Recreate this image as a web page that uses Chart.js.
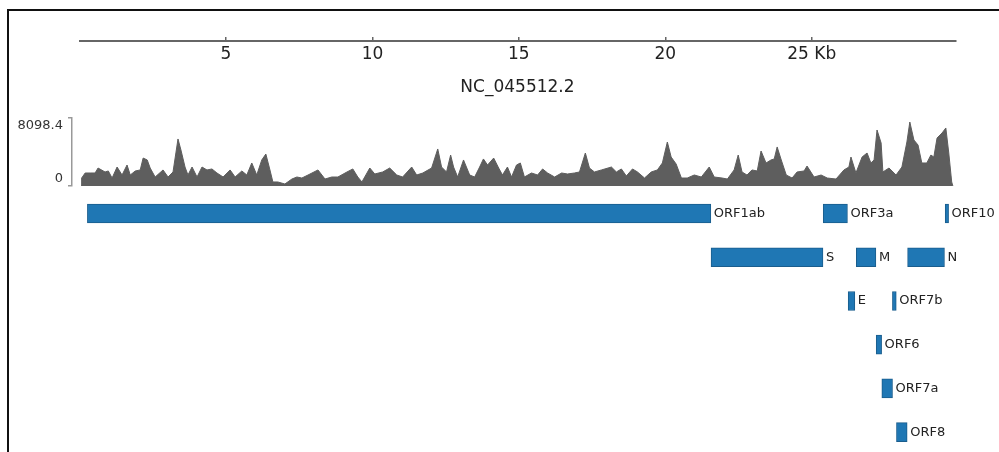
<!DOCTYPE html>
<html><head><meta charset="utf-8">
<script src="https://cdn.jsdelivr.net/npm/chart.js@4.4.0/dist/chart.umd.min.js"></script>
<style>
html,body{margin:0;padding:0;background:#fff;width:999px;height:452px;overflow:hidden;position:relative;}
#frame{position:absolute;left:7px;top:9px;width:1100px;height:600px;border-top:2px solid #111;border-left:2px solid #111;}
.box{position:absolute;left:0;}
canvas{display:block;}
</style></head><body>
<div id="frame"></div>
<div class="box" style="top:0"><canvas id="ruler" width="999" height="100"></canvas></div>
<div class="box" style="top:100px"><canvas id="cov" width="999" height="90"></canvas></div>
<div class="box" style="top:190px"><canvas id="genes" width="999" height="264"></canvas></div>
<script>
// ---- data ----
const seqName = 'NC_045512.2';
const genomeKb = 29.903;
const rulerTicks = [5, 10, 15, 20, 25];
const covMax = 8098.4;
const covTicks = [0, 8098.4];
// coverage positions (kb) and depth
const covPos = [0.05,0.07,0.19,0.36,0.53,0.63,0.87,0.98,1.11,1.28,1.45,1.62,1.73,1.90,2.07,2.17,2.31,2.41,2.58,2.85,3.02,3.19,3.36,3.46,3.60,3.70,3.84,4.01,4.18,4.35,4.52,4.69,4.90,5.14,5.31,5.54,5.71,5.88,6.05,6.22,6.36,6.50,6.60,6.77,7.01,7.25,7.42,7.59,7.80,8.14,8.38,8.61,8.82,9.13,9.33,9.50,9.64,9.91,10.08,10.35,10.59,10.83,11.03,11.34,11.51,11.72,12.02,12.23,12.36,12.53,12.67,12.77,12.91,13.11,13.32,13.49,13.66,13.79,13.93,14.14,14.31,14.44,14.61,14.75,14.92,15.05,15.19,15.43,15.64,15.81,15.98,16.22,16.46,16.66,16.90,17.07,17.27,17.41,17.58,17.82,18.16,18.33,18.50,18.67,18.88,19.05,19.29,19.52,19.73,19.90,20.07,20.20,20.37,20.55,20.75,20.99,21.23,21.50,21.67,21.94,22.12,22.35,22.49,22.62,22.79,22.96,23.14,23.27,23.44,23.61,23.72,23.82,23.96,24.13,24.33,24.50,24.74,24.84,25.08,25.32,25.53,25.83,26.10,26.27,26.34,26.51,26.72,26.89,27.02,27.13,27.23,27.37,27.43,27.64,27.88,28.08,28.25,28.35,28.49,28.63,28.76,28.93,29.07,29.17,29.28,29.45,29.58,29.68,29.78,29.82];
const covVal = [0,950,1550,1550,1550,2140,1670,1790,950,2260,1310,2500,1310,1790,1910,3330,3100,2140,1070,1910,1070,1670,5600,4290,2260,1310,2260,1070,2260,1910,2030,1550,1070,1910,1070,1790,1310,2740,1310,3100,3810,1910,480,480,240,830,1070,950,1310,1910,830,1070,1070,1670,2030,1070,480,2140,1430,1670,2140,1310,1070,2260,1310,1550,2140,4410,2260,1670,3690,2260,1070,3100,1310,1070,2260,3220,2500,3330,2140,1310,2260,1070,2500,2740,1070,1550,1310,2030,1550,1070,1550,1430,1550,1670,3930,2140,1670,1910,2260,1670,2030,1190,2030,1670,950,1670,1910,2740,5240,3450,2620,950,950,1310,1070,2260,1070,950,830,1910,3690,1670,1310,1910,1790,4170,2740,3100,3220,4650,3100,1310,950,1670,1790,2380,1070,1310,950,830,1910,2260,3450,1550,3450,3930,2740,3100,6670,5120,1670,2140,1310,2260,5240,7620,5480,4880,2740,2740,3690,3450,5720,6310,6910,3930,480,0];
// genes (kb)
const geneNames = ['ORF1ab','S','ORF3a','E','M','ORF6','ORF7a','ORF7b','ORF8','N','ORF10'];
const geneStart = [0.266,21.563,25.393,26.245,26.523,27.202,27.394,27.756,27.894,28.274,29.558];
const geneEnd   = [21.555,25.384,26.220,26.472,27.191,27.387,27.759,27.887,28.259,29.533,29.674];
const geneRow   = [0,1,0,2,1,3,4,2,5,1,0];
const rowLabels = ['r1','r2','r3','r4','r5','r6'];

// ---- layout constants ----
const X0 = 79.6, XR = 999 - 955.3, PXKB = 29.285;
const FONT = 'DejaVu Sans';

new Chart(document.getElementById('ruler'), {
  type: 'scatter',
  data: { datasets: [] },
  options: {
    responsive: false, animation: false,
    layout: { padding: { top: 37, left: X0, right: XR, bottom: 0 } },
    plugins: {
      legend: { display: false }, tooltip: { enabled: false },
      title: { display: true, text: seqName, position: 'bottom', color: '#222',
        font: { family: FONT, size: 17, weight: 'normal' }, padding: { top: 6.8, bottom: 1.8 } }
    },
    scales: {
      x: { type: 'linear', position: 'bottom', min: 0, max: genomeKb,
        afterBuildTicks: s => { s.ticks = rulerTicks.map(v => ({ value: v })); },
        afterFit: s => { s.height = 30; },
        grid: { display: true, drawOnChartArea: true, drawTicks: false, color: '#666', lineWidth: 1.5 },
        border: { display: true, color: '#666', width: 2 },
        ticks: { padding: 3, color: '#222', font: { family: FONT, size: 17 }, maxRotation: 0, autoSkip: false,
          callback: v => v === 25 ? '25 Kb' : String(v) } },
      y: { display: false, min: 0, max: 1 }
    }
  }
});

new Chart(document.getElementById('cov'), {
  type: 'line',
  data: { datasets: [{ data: covPos.map((p, i) => ({ x: p, y: covVal[i] })), fill: 'origin',
    backgroundColor: '#5e5e5e', borderColor: '#5e5e5e', borderWidth: 1, pointRadius: 0, tension: 0 }] },
  options: {
    responsive: false, animation: false,
    layout: { padding: { top: 18, bottom: 4, left: 0, right: XR } },
    plugins: { legend: { display: false }, tooltip: { enabled: false } },
    scales: {
      x: { type: 'linear', display: false, min: -(X0 - 72) / PXKB, max: genomeKb },
      y: { min: 0, max: covMax,
        afterBuildTicks: s => { s.ticks = covTicks.map(v => ({ value: v })); },
        afterFit: s => { s.width = 72; s.paddingTop = 0; s.paddingBottom = 0; },
        grid: { drawOnChartArea: false, drawTicks: true, tickLength: 4, color: '#999', lineWidth: 1.5 },
        border: { display: true, color: '#999', width: 1.5 },
        ticks: { padding: 5, color: '#333', font: { family: FONT, size: 13 },
          callback: v => v === 0 ? ['0', ''] : ['', String(v)] } }
    }
  }
});

const geneLabelPlugin = {
  id: 'geneLabels',
  afterDatasetsDraw(chart) {
    const ctx = chart.ctx, meta = chart.getDatasetMeta(0);
    ctx.save();
    ctx.font = '13px "' + FONT + '"';
    ctx.fillStyle = '#222';
    ctx.textBaseline = 'middle';
    ctx.textAlign = 'left';
    meta.data.forEach((el, i) => {
      ctx.fillText(geneNames[i], Math.max(el.x, el.base) + 3, el.y);
    });
    ctx.restore();
  }
};

new Chart(document.getElementById('genes'), {
  type: 'bar',
  data: { labels: rowLabels, datasets: [{
    data: geneNames.map((n, i) => ({ x: [geneStart[i], geneEnd[i]], y: rowLabels[geneRow[i]] })),
    backgroundColor: '#1f77b4', borderColor: '#1a5d8d', borderWidth: 1, borderSkipped: false,
    barThickness: 19, grouped: false }] },
  options: {
    indexAxis: 'y', responsive: false, animation: false,
    layout: { padding: { top: 1.65, left: X0, right: XR, bottom: 0 } },
    plugins: { legend: { display: false }, tooltip: { enabled: false } },
    scales: {
      x: { type: 'linear', display: false, min: 0, max: genomeKb },
      y: { type: 'category', display: false, offset: true }
    }
  },
  plugins: [geneLabelPlugin]
});
</script>
</body></html>
